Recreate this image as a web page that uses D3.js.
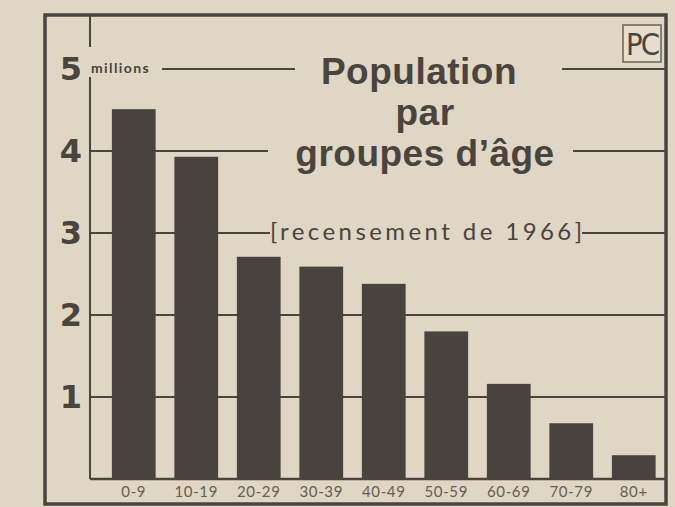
<!DOCTYPE html>
<html>
<head>
<meta charset="utf-8">
<script src="https://cdn.jsdelivr.net/npm/d3@7"></script>
<style>
  body { margin: 0; background: #e0d6c4; }
  svg { display: block; }
</style>
</head>
<body>
<script>
// data (millions)
let ageGroups = ["0-9", "10-19", "20-29", "30-39", "40-49", "50-59", "60-69", "70-79", "80+"];
let population = [4.51, 3.93, 2.71, 2.59, 2.38, 1.80, 1.16, 0.68, 0.29];
let yTicks = [1, 2, 3, 4, 5];
let titleLines = ["Population", "par", "groupes d’âge"];
let subtitle = "[recensement de 1966]";

let width = 675, height = 507;
let ink = "#4a443e", barColor = "#48433f";

// frame and plot bounds
let frame = {left: 45, top: 15, right: 666, bottom: 504};
let plot = {left: 90, right: 665, bottom: 479};

let svg = d3.select("body").append("svg")
    .attr("width", width)
    .attr("height", height);

svg.append("rect")
    .attr("width", width)
    .attr("height", height)
    .attr("fill", "#e0d6c4");

// scales
let x = d3.scaleBand()
    .domain(ageGroups)
    .range([plot.left, plot.right])
    .paddingInner(0.3)
    .paddingOuter(0.25)
    .align(0.7);

let y = d3.scaleLinear()
    .domain([0, 5])
    .range([plot.bottom, plot.bottom - 5 * 82]);

// gridlines, broken up where the title sits
let gridSegs = [
    {v: 5, x1: 162, x2: 295}, {v: 5, x1: 562, x2: plot.right},
    {v: 4, x1: plot.left, x2: 268}, {v: 4, x1: 573, x2: plot.right},
    {v: 3, x1: plot.left, x2: 270}, {v: 3, x1: 582, x2: plot.right},
    {v: 2, x1: plot.left, x2: plot.right},
    {v: 1, x1: plot.left, x2: plot.right}
];

svg.append("g").selectAll("line")
    .data(gridSegs)
    .enter().append("line")
    .attr("x1", d => d.x1)
    .attr("x2", d => d.x2)
    .attr("y1", d => y(d.v))
    .attr("y2", d => y(d.v))
    .attr("stroke", ink)
    .attr("stroke-width", 2);

// bars
svg.append("g").selectAll("rect")
    .data(population)
    .enter().append("rect")
    .attr("x", (d, i) => x(ageGroups[i]))
    .attr("y", d => y(d))
    .attr("width", x.bandwidth())
    .attr("height", d => y(0) - y(d))
    .attr("fill", barColor);

// y axis line (gap behind "millions")
svg.append("line")
    .attr("x1", plot.left).attr("x2", plot.left)
    .attr("y1", frame.top).attr("y2", 47)
    .attr("stroke", ink).attr("stroke-width", 2);
svg.append("line")
    .attr("x1", plot.left).attr("x2", plot.left)
    .attr("y1", 77).attr("y2", plot.bottom)
    .attr("stroke", ink).attr("stroke-width", 2);

// baseline
svg.append("line")
    .attr("x1", plot.left).attr("x2", plot.right)
    .attr("y1", plot.bottom).attr("y2", plot.bottom)
    .attr("stroke", ink).attr("stroke-width", 2.5);

// y tick labels
let yAxis = svg.append("g")
    .attr("transform", "translate(" + plot.left + ",0)")
    .call(d3.axisLeft(y).tickValues(yTicks).tickSize(0).tickPadding(8).tickFormat(d3.format("d")));
yAxis.select(".domain").remove();
yAxis.selectAll("text")
    .attr("font-family", "DejaVu Sans, sans-serif")
    .attr("font-weight", "bold")
    .attr("font-size", 32)
    .attr("fill", ink);

svg.append("text")
    .attr("x", 91)
    .attr("y", 73)
    .attr("font-family", "Lato, sans-serif")
    .attr("font-weight", "bold")
    .attr("font-size", 14)
    .attr("letter-spacing", 1.4)
    .attr("fill", ink)
    .text("millions");

// x tick labels
let xAxis = svg.append("g")
    .attr("transform", "translate(0," + plot.bottom + ")")
    .call(d3.axisBottom(x).tickSize(0).tickPadding(7));
xAxis.select(".domain").remove();
xAxis.selectAll("text")
    .attr("font-family", "Lato, sans-serif")
    .attr("font-size", 15)
    .attr("letter-spacing", 0.6)
    .attr("fill", "#675d54");

// title
let titleY = [84, 125, 166];
let titleX = [419, 425, 425];
svg.append("g").selectAll("text")
    .data(titleLines)
    .enter().append("text")
    .attr("x", (d, i) => titleX[i])
    .attr("y", (d, i) => titleY[i])
    .attr("text-anchor", "middle")
    .attr("font-family", "Liberation Sans, Arial, sans-serif")
    .attr("font-weight", "bold")
    .attr("font-size", 37)
    .attr("letter-spacing", 0.5)
    .attr("fill", ink)
    .text(d => d);

svg.append("text")
    .attr("x", 270)
    .attr("y", 240)
    .attr("font-family", "Lato, sans-serif")
    .attr("font-size", 24)
    .attr("textLength", 312)
    .attr("lengthAdjust", "spacing")
    .attr("fill", ink)
    .text(subtitle);

// frame
svg.append("rect")
    .attr("x", frame.left)
    .attr("y", frame.top)
    .attr("width", frame.right - frame.left)
    .attr("height", frame.bottom - frame.top)
    .attr("fill", "none")
    .attr("stroke", ink)
    .attr("stroke-width", 3.5);

// PC mark
svg.append("rect")
    .attr("x", 623).attr("y", 25)
    .attr("width", 38).attr("height", 37)
    .attr("fill", "#e6ddcd")
    .attr("stroke", "#6a625a")
    .attr("stroke-width", 1.5);
svg.append("text")
    .attr("x", 642).attr("y", 55)
    .attr("text-anchor", "middle")
    .attr("font-family", "Liberation Sans Narrow, DejaVu Sans Condensed, sans-serif")
    .attr("font-size", 31)
    .attr("letter-spacing", -2)
    .attr("textLength", 32)
    .attr("lengthAdjust", "spacingAndGlyphs")
    .attr("fill", ink)
    .text("PC");
</script>
</body>
</html>
